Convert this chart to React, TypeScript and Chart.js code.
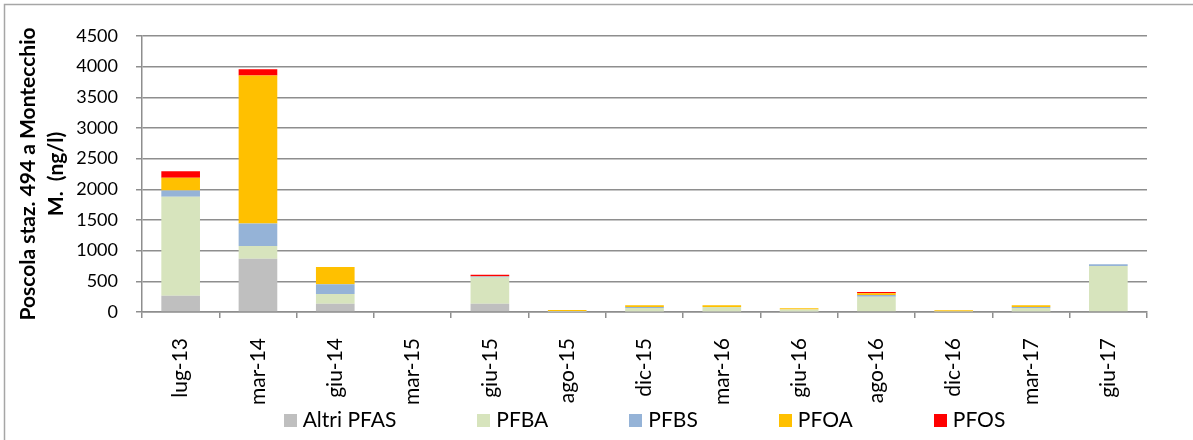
import React, { useEffect, useRef } from "react";
import { Chart, registerables } from "chart.js";

Chart.register(...registerables);

const categories = ["lug-13", "mar-14", "giu-14", "mar-15", "giu-15", "ago-15", "dic-15", "mar-16", "giu-16", "ago-16", "dic-16", "mar-17", "giu-17"];
const altriPFAS = [265, 868, 136, 0, 136, 5, 10, 10, 5, 0, 3, 10, 0];
const pfba = [1613, 207, 157, 0, 425, 8, 55, 73, 35, 250, 5, 57, 750];
const pfbs = [103, 369, 158, 0, 16, 2, 16, 0, 0, 28, 0, 16, 28];
const pfoa = [206, 2411, 282, 0, 6, 18, 30, 28, 22, 28, 20, 28, 0];
const pfos = [109, 102, 0, 0, 25, 0, 0, 0, 0, 22, 0, 0, 0];

const yTitle = ["Poscola staz. 494 a Montecchio", "M.  (ng/l)"];
const yMin = 0;
const yMax = 4500;
const yStep = 500;

const FONT = "Lato";
const GRID = "#8e8e8e";

const frame = {
  id: "frame",
  beforeDraw(chart: any) {
    const ctx = chart.ctx;
    ctx.save();
    ctx.strokeStyle = "#a6a6a6";
    ctx.lineWidth = 1.5;
    ctx.beginPath();
    ctx.moveTo(4.5, 2000);
    ctx.lineTo(4.5, 4.5);
    ctx.lineTo(2000, 4.5);
    ctx.stroke();
    ctx.restore();
  },
};

// Bottom legend with wide gaps between entries (as in the original)
const wideLegend = {
  id: "wideLegend",
  afterDraw(chart: any) {
    const ctx = chart.ctx;
    const box = 13;
    const gapText = 6;
    const gapItem = 81;
    const yMid = 420.5;
    ctx.save();
    ctx.font = `21px ${FONT}`;
    ctx.textBaseline = "middle";
    ctx.textAlign = "left";
    const items = chart.data.datasets.map((d: any) => ({
      text: d.label,
      color: d.backgroundColor,
      w: ctx.measureText(d.label).width,
    }));
    const total =
      items.reduce((s: number, it: any) => s + box + gapText + it.w, 0) + gapItem * (items.length - 1);
    const ca = chart.chartArea;
    let x = (ca.left + ca.right) / 2 - total / 2;
    for (const it of items) {
      ctx.fillStyle = it.color;
      ctx.fillRect(Math.round(x), Math.round(yMid - box / 2), box, box);
      ctx.fillStyle = "#000";
      ctx.fillText(it.text, x + box + gapText, yMid);
      x += box + gapText + it.w + gapItem;
    }
    ctx.restore();
  },
};

export default function App() {
  const ref = useRef<HTMLCanvasElement>(null);
  useEffect(() => {
    document.body.style.margin = "0";
    const ds = (label: string, data: number[], color: string) => ({
      label,
      data,
      backgroundColor: color,
      borderWidth: 0,
      categoryPercentage: 1,
      barPercentage: 0.5,
    });
    const chart = new Chart(ref.current!, {
      type: "bar",
      data: {
        labels: categories,
        datasets: [
          ds("Altri PFAS", altriPFAS, "#BFBFBF"),
          ds("PFBA", pfba, "#D7E4BD"),
          ds("PFBS", pfbs, "#95B3D7"),
          ds("PFOA", pfoa, "#FFC000"),
          ds("PFOS", pfos, "#FF0000"),
        ],
      },
      options: {
        responsive: false,
        animation: false,
        devicePixelRatio: 1,
        layout: { padding: { left: 0, top: 36, right: 46, bottom: 28 } },
        plugins: {
          tooltip: { enabled: false },
          legend: { display: false },
        },
        scales: {
          x: {
            stacked: true,
            afterFit: (s: any) => {
              s.height = 100;
            },
            grid: {
              drawOnChartArea: false,
              drawTicks: true,
              tickLength: 6,
              color: GRID,
              lineWidth: 1.5,
            },
            border: { color: GRID, width: 1.5 },
            ticks: {
              autoSkip: false,
              minRotation: 90,
              maxRotation: 90,
              padding: 20,
              color: "#000",
              font: { family: FONT, size: 21 },
            },
          },
          y: {
            stacked: true,
            min: yMin,
            max: yMax,
            afterFit: (s: any) => {
              s.width = 142;
            },
            grid: {
              drawTicks: true,
              tickLength: 6,
              color: GRID,
              lineWidth: 1.5,
            },
            border: { color: GRID, width: 1.5 },
            ticks: {
              stepSize: yStep,
              padding: 18,
              color: "#000",
              font: { family: FONT, size: 18 },
              callback: (v: any) => String(v),
            },
            title: {
              display: true,
              text: yTitle,
              color: "#000",
              padding: { top: 15, bottom: 0 },
              font: { family: FONT, size: 21, weight: "bold", lineHeight: 1.3 },
            },
          },
        },
      },
      plugins: [frame, wideLegend],
    });
    return () => chart.destroy();
  }, []);
  return (
    <div style={{ position: "absolute", left: 0, top: 0, width: 1193, height: 440 }}>
      <canvas ref={ref} width={1193} height={440} />
    </div>
  );
}
